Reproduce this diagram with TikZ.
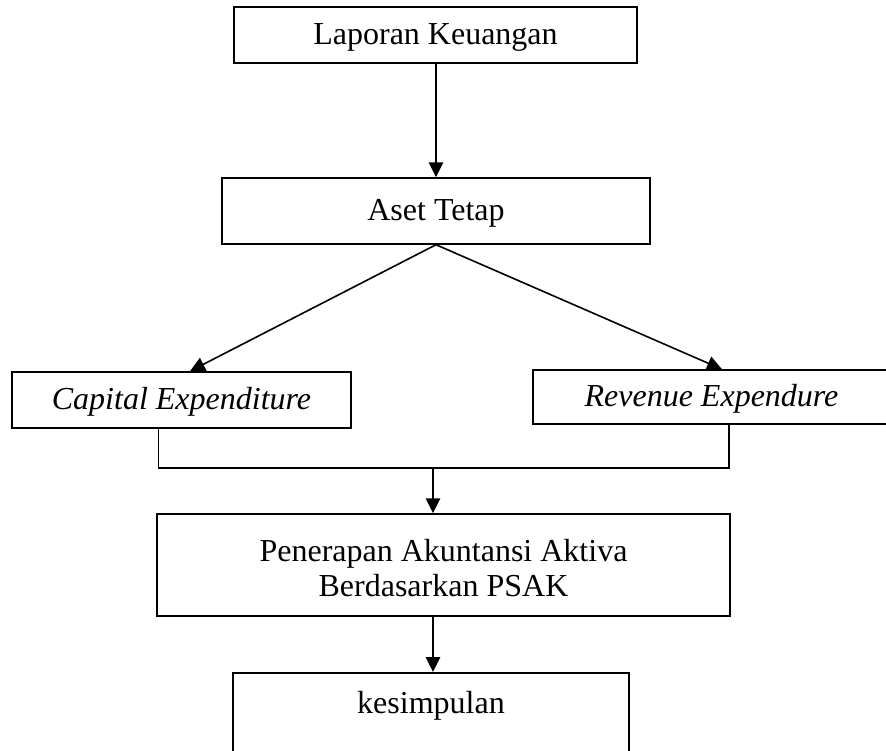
\documentclass[tikz,border=0pt]{standalone}
\usepackage{fontspec}
\setmainfont{Liberation Serif}
\usetikzlibrary{calc, positioning, arrows.meta}

\tikzset{
  stepbox/.style={draw, line width=0.6pt, inner sep=0pt, align=center,
    text height=10pt, text depth=2.5pt,
    font=\fontsize{12}{13.2}\selectfont},
  flow/.style={line width=0.6pt, -{Triangle[length=5.6pt, width=5.4pt]}},
  link/.style={line width=0.5pt}
}

\begin{document}
\begin{tikzpicture}[x=0.375pt, y=-0.375pt]
  \clip (0,0) rectangle (886,751);

  \node (laporan) [stepbox, minimum width=151pt, minimum height=21pt]
    at (435.5,35) {Laporan Keuangan};
  \node (aset) [stepbox, minimum width=160.5pt, minimum height=24.7pt]
    at (436,211) {Aset Tetap};
  \node (capital) [stepbox, minimum width=127pt, minimum height=21pt]
    at (181.5,400) {\itshape Capital Expenditure};
  \node (revenue) [stepbox, minimum width=134pt, minimum height=20.2pt]
    at (711.5,397) {\itshape Revenue Expendure};
  \node (psak) [stepbox, minimum width=215pt, minimum height=38.2pt,
    text height=26pt, text depth=2pt]
    at (443.5,565) {Penerapan Akuntansi Aktiva\\Berdasarkan PSAK};
  \node (kesimpulan) [stepbox, anchor=north, minimum width=148.5pt,
    text height=10.5pt, text depth=45pt, inner ysep=4.6pt]
    at (431,672) {kesimpulan};

  \coordinate (join) at (433,468);

  \draw [flow] (laporan.south -| aset.south) -- (aset.north);
  \draw [flow] (aset.south) -- ($(capital.north)+(8.5,0)$);
  \draw [flow] (aset.south) -- ($(revenue.north)+(10.5,0)$);

  \draw [link] ($(capital.south west)+(147,0)$) |- (join)
    -| ($(revenue.south west)+(197,0)$);
  \draw [flow] (join) -- (join |- psak.north);
  \draw [flow] (join |- psak.south) -- (join |- kesimpulan.north);
\end{tikzpicture}
\end{document}
